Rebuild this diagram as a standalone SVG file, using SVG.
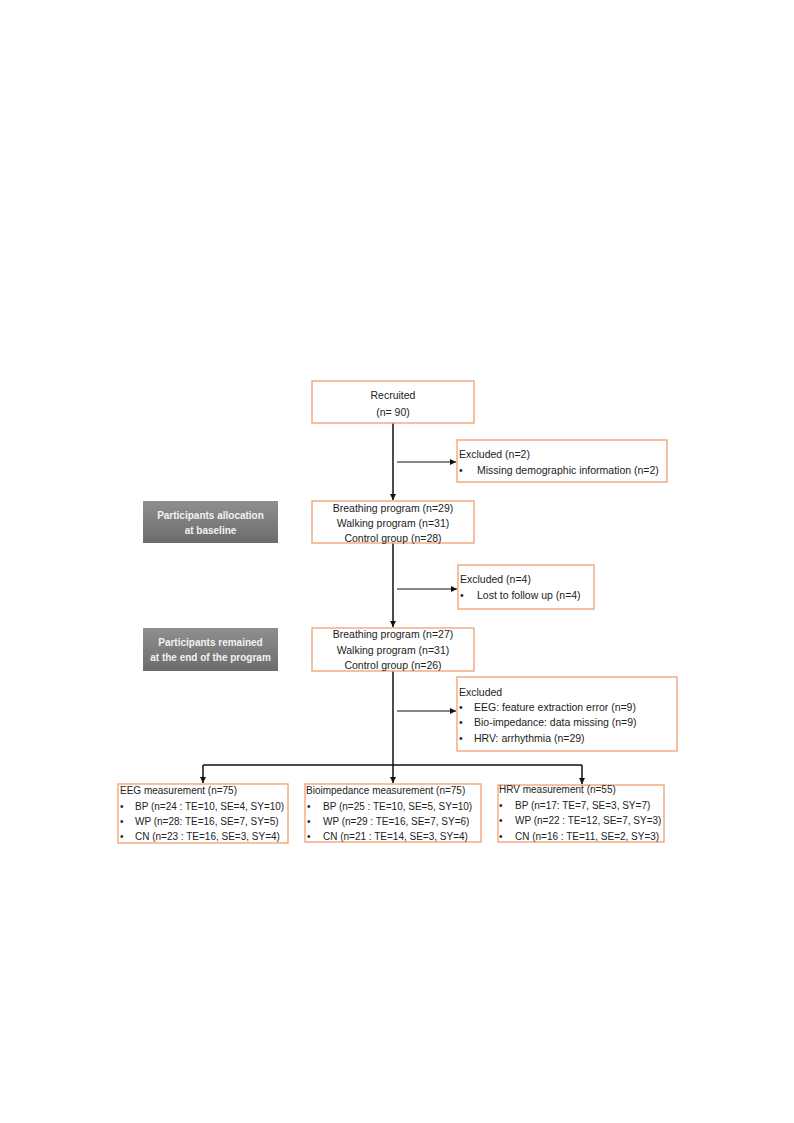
<svg xmlns="http://www.w3.org/2000/svg" width="794" height="1123" viewBox="0 0 794 1123">
<style>
.box{fill:#fff;stroke:#f2a77c;stroke-width:1.4}
.t{font-family:"Liberation Sans",Arial,sans-serif;font-size:10.5px;fill:#222}
.s{font-size:10px}
.c{text-anchor:middle}
.g{font-family:"Liberation Sans",Arial,sans-serif;font-size:10px;font-weight:bold;fill:#f2f2f2;text-anchor:middle}
.ln{stroke:#111;stroke-width:1.5;fill:none}
.ln1{stroke:#111;stroke-width:1;fill:none}
</style>
<defs>
<linearGradient id="gr" x1="0" y1="0" x2="0" y2="1">
<stop offset="0" stop-color="#8f8f8f"/>
<stop offset="1" stop-color="#6c6c6c"/>
</linearGradient>
<marker id="ah" markerWidth="8" markerHeight="8" refX="6" refY="3" orient="auto" markerUnits="userSpaceOnUse">
<path d="M0,0 L6,3 L0,6 Z" fill="#111"/>
</marker>
</defs>
<rect width="794" height="1123" fill="#fff"/>

<g id="connectors">
<path class="ln" d="M393,423 V500" marker-end="url(#ah)"/>
<path class="ln1" d="M397,462 H456" marker-end="url(#ah)"/>
<path class="ln" d="M393,543 V627" marker-end="url(#ah)"/>
<path class="ln1" d="M397,589 H457" marker-end="url(#ah)"/>
<path class="ln" d="M393,671 V765"/>
<path class="ln1" d="M397,711 H456" marker-end="url(#ah)"/>
<path class="ln" d="M203,765 H582"/>
<path class="ln" d="M203,765 V783" marker-end="url(#ah)"/>
<path class="ln" d="M393,765 V783" marker-end="url(#ah)"/>
<path class="ln" d="M582,765 V784" marker-end="url(#ah)"/>
</g>

<g id="recruited">
<rect class="box" x="312" y="381" width="162" height="42"/>
<text class="t c" x="393" y="399">Recruited</text>
<text class="t c" x="393" y="416">(n= 90)</text>
</g>

<g id="excluded1">
<rect class="box" x="457" y="440" width="210" height="42"/>
<text class="t" x="459" y="458">Excluded (n=2)</text>
<text class="t" x="459" y="474">•</text>
<text class="t" x="477" y="474">Missing demographic information (n=2)</text>
</g>

<g id="label-baseline">
<rect x="143" y="501" width="135" height="42" fill="url(#gr)"/>
<text class="g" x="210.5" y="519">Participants allocation</text>
<text class="g" x="210.5" y="534">at baseline</text>
</g>

<g id="allocation">
<rect class="box" x="312" y="501" width="162" height="42"/>
<text class="t c" x="393" y="511.5">Breathing program (n=29)</text>
<text class="t c" x="393" y="526.5">Walking program (n=31)</text>
<text class="t c" x="393" y="541.5">Control group (n=28)</text>
</g>

<g id="excluded2">
<rect class="box" x="458" y="565" width="136" height="44"/>
<text class="t" x="460" y="583">Excluded (n=4)</text>
<text class="t" x="460" y="599">•</text>
<text class="t" x="477" y="599">Lost to follow up (n=4)</text>
</g>

<g id="label-end">
<rect x="143" y="628" width="135" height="43" fill="url(#gr)"/>
<text class="g" x="210.5" y="646">Participants remained</text>
<text class="g" x="210.5" y="661">at the end of the program</text>
</g>

<g id="remained">
<rect class="box" x="312" y="628" width="162" height="43"/>
<text class="t c" x="393" y="638">Breathing program (n=27)</text>
<text class="t c" x="393" y="653.5">Walking program (n=31)</text>
<text class="t c" x="393" y="668.5">Control group (n=26)</text>
</g>

<g id="excluded3">
<rect class="box" x="457" y="677" width="220" height="74"/>
<text class="t" x="459" y="695.5">Excluded</text>
<text class="t" x="459" y="710.5">•</text>
<text class="t" x="474" y="710.5">EEG: feature extraction error (n=9)</text>
<text class="t" x="459" y="726">•</text>
<text class="t" x="474" y="726">Bio-impedance: data missing (n=9)</text>
<text class="t" x="459" y="742">•</text>
<text class="t" x="474" y="742">HRV: arrhythmia (n=29)</text>
</g>

<g id="eeg">
<rect class="box" x="118" y="784" width="170" height="59"/>
<text class="t s" x="120" y="794">EEG measurement (n=75)</text>
<text class="t s" x="120" y="809.5">•</text>
<text class="t s" x="135" y="809.5">BP (n=24 : TE=10, SE=4, SY=10)</text>
<text class="t s" x="120" y="824.5">•</text>
<text class="t s" x="135" y="824.5">WP (n=28: TE=16, SE=7, SY=5)</text>
<text class="t s" x="120" y="840">•</text>
<text class="t s" x="135" y="840">CN (n=23 : TE=16, SE=3, SY=4)</text>
</g>

<g id="bioimpedance">
<rect class="box" x="305" y="784" width="176" height="58"/>
<text class="t s" x="306" y="794">Bioimpedance measurement (n=75)</text>
<text class="t s" x="307" y="809.5">•</text>
<text class="t s" x="323" y="809.5">BP (n=25 : TE=10, SE=5, SY=10)</text>
<text class="t s" x="307" y="824.5">•</text>
<text class="t s" x="323" y="824.5">WP (n=29 : TE=16, SE=7, SY=6)</text>
<text class="t s" x="307" y="840">•</text>
<text class="t s" x="323" y="840">CN (n=21 : TE=14, SE=3, SY=4)</text>
</g>

<g id="hrv">
<rect class="box" x="498" y="785" width="166" height="57"/>
<text class="t s" x="499" y="793">HRV measurement (n=55)</text>
<text class="t s" x="499" y="809">•</text>
<text class="t s" x="515" y="809">BP (n=17: TE=7, SE=3, SY=7)</text>
<text class="t s" x="499" y="824">•</text>
<text class="t s" x="515" y="824">WP (n=22 : TE=12, SE=7, SY=3)</text>
<text class="t s" x="499" y="839.5">•</text>
<text class="t s" x="515" y="839.5">CN (n=16 : TE=11, SE=2, SY=3)</text>
</g>
</svg>
